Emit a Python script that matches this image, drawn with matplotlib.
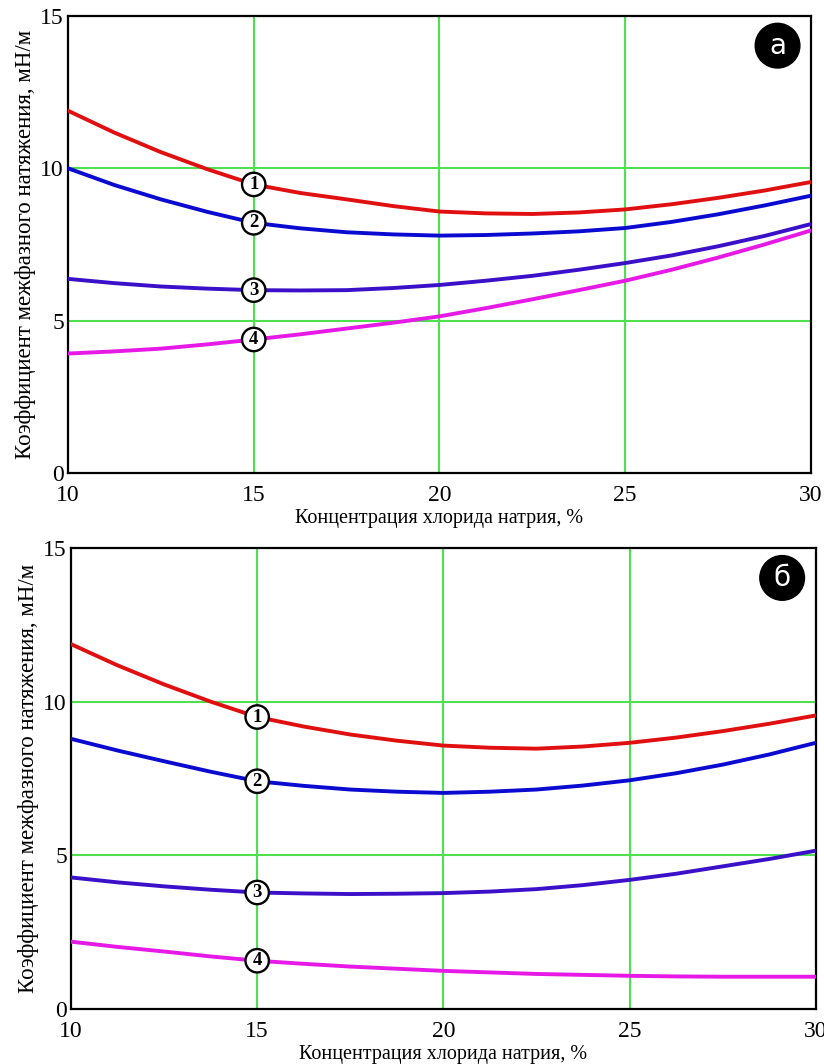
import numpy as np
import matplotlib.pyplot as plt

# concentration of NaCl, %
conc = [10, 11.25, 12.5, 13.75, 15, 16.25, 17.5, 18.75, 20,
        21.25, 22.5, 23.75, 25, 26.25, 27.5, 28.75, 30]

# panel a
a1 = [11.89, 11.17, 10.53, 9.97, 9.47, 9.19, 8.98, 8.76, 8.58,
      8.52, 8.50, 8.55, 8.65, 8.82, 9.03, 9.27, 9.55]
a2 = [10.00, 9.45, 8.98, 8.57, 8.21, 8.03, 7.90, 7.83, 7.79,
      7.81, 7.86, 7.93, 8.04, 8.24, 8.49, 8.78, 9.10]
a3 = [6.37, 6.23, 6.12, 6.05, 6.00, 5.99, 6.00, 6.07, 6.17,
      6.31, 6.47, 6.67, 6.89, 7.14, 7.44, 7.78, 8.17]
a4 = [3.92, 3.99, 4.08, 4.22, 4.38, 4.55, 4.74, 4.93, 5.14,
      5.41, 5.70, 6.00, 6.31, 6.67, 7.07, 7.50, 7.96]

# panel b
b1 = [11.87, 11.18, 10.56, 10.00, 9.50, 9.19, 8.93, 8.73, 8.57,
      8.50, 8.47, 8.54, 8.66, 8.83, 9.04, 9.28, 9.55]
b2 = [8.79, 8.41, 8.06, 7.72, 7.41, 7.26, 7.14, 7.07, 7.03,
      7.07, 7.14, 7.27, 7.44, 7.67, 7.95, 8.28, 8.66]
b3 = [4.28, 4.12, 3.99, 3.88, 3.79, 3.76, 3.74, 3.75, 3.77,
      3.82, 3.90, 4.03, 4.20, 4.40, 4.64, 4.88, 5.15]
b4 = [2.19, 2.02, 1.87, 1.71, 1.57, 1.47, 1.38, 1.31, 1.24,
      1.19, 1.14, 1.11, 1.08, 1.06, 1.05, 1.05, 1.05]

curve_names = ['1', '2', '3', '4']
colors = ['#e01010', '#0a0ad0', '#3a10c8', '#e619e6']
xticks = [10, 15, 20, 25, 30]
yticks = [0, 5, 10, 15]
label_x = 15
xlabel = 'Концентрация хлорида натрия, %'
ylabel = 'Коэффициент межфазного натяжения, мН/м'

plt.rcParams['font.family'] = ['Liberation Serif', 'DejaVu Serif']

fig = plt.figure(figsize=(8.24, 10.64), dpi=100)
ax_a = fig.add_axes([0.0825, 0.5555, 0.9017, 0.4295])
ax_b = fig.add_axes([0.0862, 0.0517, 0.9037, 0.4333])


def draw_panel(ax, series, tag):
    for xv in [15, 20, 25]:
        ax.axvline(xv, color='#4fe04f', lw=1.5, zorder=1)
    for yv in [5, 10]:
        ax.axhline(yv, color='#4fe04f', lw=1.5, zorder=1)
    for ys, c, name in zip(series, colors, curve_names):
        ax.plot(conc, ys, color=c, lw=2.8, solid_joinstyle='round', zorder=3)
        yl = ys[conc.index(label_x)]
        ax.text(label_x, yl, name, ha='center', va='center', fontsize=13.5,
                fontweight='bold', zorder=5,
                bbox=dict(boxstyle='circle,pad=0.17', fc='white', ec='black', lw=1.7))
    ax.set_xlim(10, 30)
    ax.set_ylim(0, 15)
    ax.set_xticks(xticks)
    ax.set_yticks(yticks)
    ax.tick_params(length=0, labelsize=17)
    ax.tick_params(axis='x', pad=9)
    ax.tick_params(axis='y', pad=3)
    for s in ax.spines.values():
        s.set_linewidth(1.6)
    ax.set_xlabel(xlabel, fontsize=14.5, labelpad=2)
    ax.set_ylabel(ylabel, fontsize=16.5, labelpad=3)
    ax.text(0.955, 0.935, tag, transform=ax.transAxes, ha='center', va='center',
            color='white', fontsize=20, family='DejaVu Sans', zorder=6,
            bbox=dict(boxstyle='circle,pad=0.3', fc='black', ec='black'))


draw_panel(ax_a, [a1, a2, a3, a4], 'а')
draw_panel(ax_b, [b1, b2, b3, b4], 'б')

fig.savefig('out.png', dpi=100)
